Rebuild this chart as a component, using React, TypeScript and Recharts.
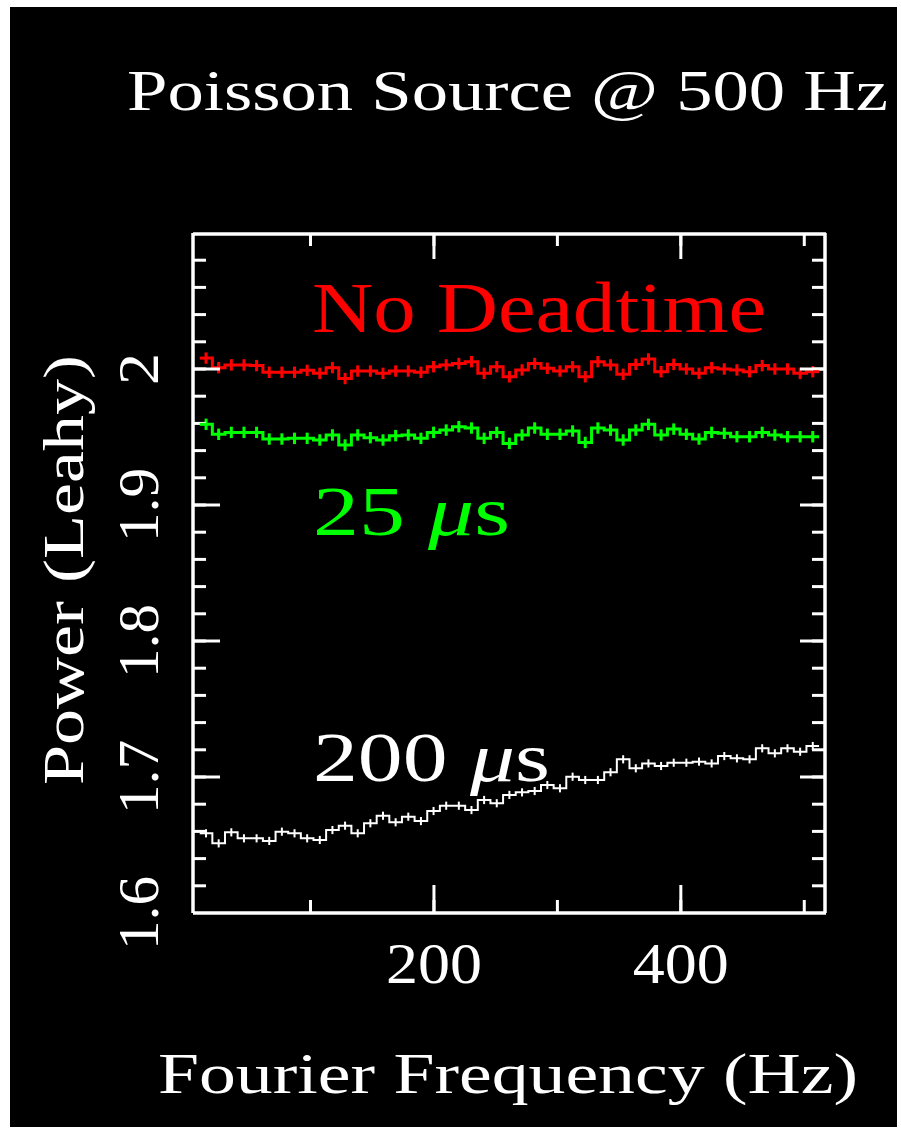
import React from 'react';
import { LineChart, Line, XAxis, YAxis, ErrorBar } from 'recharts';

// Fourier frequency bin centres (Hz)
const frequencies = [
  15.36, 25.6, 35.84, 46.08, 56.32, 66.56, 76.8, 87.04, 97.28, 107.52,
  117.76, 128, 138.24, 148.48, 158.72, 168.96, 179.2, 189.44, 199.68, 209.92,
  220.16, 230.4, 240.64, 250.88, 261.12, 271.36, 281.6, 291.84, 302.08, 312.32,
  322.56, 332.8, 343.04, 353.28, 363.52, 373.76, 384, 394.24, 404.48, 414.72,
  424.96, 435.2, 445.44, 455.68, 465.92, 476.16, 486.4, 496.64, 506.88,
];

// Leahy power, no deadtime
const noDeadtime = [
  2.008, 2.001, 2.003, 2.003, 2.0025, 1.9976, 1.9976, 1.9976, 1.999, 1.9968,
  2.001, 1.993, 1.9985, 1.9985, 1.9968, 1.9985, 1.9985, 1.9976, 2.0017, 2.003,
  2.004, 2.0054, 1.9968, 2.0017, 1.9943, 1.9993, 2.004, 2.0005, 1.9985, 2.0017,
  1.9943, 2.0054, 2.003, 1.9961, 2.0034, 2.0074, 1.998, 2.0034, 2.0, 1.9968,
  2.001, 2.0, 1.9993, 1.998, 2.0025, 2.0, 2.0, 1.9968, 1.998,
];

// Leahy power, 25 microsecond deadtime
const deadtime25 = [
  1.9593, 1.952, 1.9534, 1.9534, 1.9534, 1.9485, 1.9485, 1.949, 1.949, 1.9478,
  1.9515, 1.9441, 1.9515, 1.9495, 1.9478, 1.951, 1.9515, 1.949, 1.9534, 1.9551,
  1.9576, 1.9566, 1.949, 1.9534, 1.9453, 1.9515, 1.9566, 1.952, 1.952, 1.9544,
  1.946, 1.9566, 1.9551, 1.9478, 1.9551, 1.9593, 1.9515, 1.9558, 1.952, 1.9485,
  1.9534, 1.9527, 1.9502, 1.9502, 1.9534, 1.9515, 1.9502, 1.9502, 1.9502,
];

// Leahy power, 200 microsecond deadtime
const deadtime200 = [
  1.6586, 1.6512, 1.6593, 1.6549, 1.6549, 1.653, 1.6598, 1.6586, 1.6549, 1.6537,
  1.661, 1.6642, 1.6586, 1.666, 1.6715, 1.6667, 1.6708, 1.6676, 1.675, 1.6789,
  1.6789, 1.6757, 1.6831, 1.6807, 1.6868, 1.6887, 1.6897, 1.6941, 1.6917, 1.7002,
  1.6978, 1.6978, 1.7035, 1.713, 1.7064, 1.71, 1.7081, 1.7105, 1.7105, 1.7113,
  1.71, 1.7154, 1.7137, 1.713, 1.7211, 1.7174, 1.7211, 1.7186, 1.7228,
];

const errNoDeadtime = 0.0042;
const err25 = 0.0042;
const err200 = 0.003;

const xMinorTicks = [100, 200, 300, 400, 500];
const xMajorTicks = [200, 400];
const xLabelTicks = [200, 400];
const yMinorTicks = [
  1.62, 1.64, 1.66, 1.68, 1.7, 1.72, 1.74, 1.76, 1.78, 1.8, 1.82, 1.84,
  1.86, 1.88, 1.9, 1.92, 1.94, 1.96, 1.98, 2, 2.02, 2.04, 2.06, 2.08,
];
const yMajorTicks = [1.7, 1.8, 1.9, 2];
const yLabelTicks = [1.6, 1.7, 1.8, 1.9, 2];

const X_DOMAIN: [number, number] = [4.8, 517.6];
const Y_DOMAIN: [number, number] = [1.6, 2.1];

const data = frequencies.map((f, i) => ({
  f,
  red: noDeadtime[i],
  redErr: errNoDeadtime,
  green: deadtime25[i],
  greenErr: err25,
  white: deadtime200[i],
  whiteErr: err200,
}));

const FONT = '"Liberation Serif", "DejaVu Serif", serif';
const HALF_BIN_PX = 6.3;

const makeEdgeDot = (color: string, width: number) => (props: any) => {
  const { cx, cy, index } = props;
  const key = `dot-${color}-${index}`;
  if (index === 0) {
    return <line key={key} x1={cx - HALF_BIN_PX} x2={cx} y1={cy} y2={cy} stroke={color} strokeWidth={width} />;
  }
  if (index === frequencies.length - 1) {
    return <line key={key} x1={cx} x2={cx + HALF_BIN_PX} y1={cy} y2={cy} stroke={color} strokeWidth={width} />;
  }
  return <g key={key} />;
};

const EmptyTick = () => <g />;

const XLabelTick = (props: any) => {
  const { x, y, payload } = props;
  return (
    <text x={x - 48} y={y} fill="#ffffff" fontSize={57} fontFamily={FONT}
      textLength={96} lengthAdjust="spacingAndGlyphs">
      {payload.value}
    </text>
  );
};

const YLabelTick = (props: any) => {
  const { x, y, payload } = props;
  const v = payload.value;
  const isTwo = Math.abs(v - 2) < 1e-9;
  const label = isTwo ? '2' : v.toFixed(1);
  const len = isTwo ? 32 : 74;
  return (
    <text
      x={x}
      y={y + len / 2}
      transform={`rotate(-90 ${x} ${y + len / 2})`}
      fill="#ffffff"
      fontSize={57}
      fontFamily={FONT}
      textLength={len}
      lengthAdjust="spacingAndGlyphs"
    >
      {label}
    </text>
  );
};

const WHITE = '#ffffff';
const frameLine = { stroke: WHITE, strokeWidth: 3.5 };
const tickLineStyle = { stroke: WHITE, strokeWidth: 3 };

export default function App() {
  return (
    <div style={{ position: 'fixed', left: 0, top: 0, width: 901, height: 1134, background: '#ffffff' }}>
      <div style={{ position: 'absolute', left: 10, top: 7, width: 887, height: 1120, background: '#000000' }}>
        <LineChart
          width={887}
          height={1120}
          data={data}
          margin={{ top: 226, right: 71, bottom: 213, left: 182 }}
        >
          {/* bottom frame + minor ticks */}
          <XAxis xAxisId="x" dataKey="f" type="number" domain={X_DOMAIN} allowDataOverflow orientation="bottom"
            height={1} ticks={xMinorTicks} interval={0} tick={<EmptyTick />} tickSize={13} mirror
            axisLine={frameLine} tickLine={tickLineStyle} />
          <XAxis xAxisId="xMajB" dataKey="f" type="number" domain={X_DOMAIN} allowDataOverflow orientation="bottom"
            height={1} ticks={xMajorTicks} interval={0} tick={<EmptyTick />} tickSize={27} mirror
            axisLine={false} tickLine={tickLineStyle} />
          <XAxis xAxisId="xLab" dataKey="f" type="number" domain={X_DOMAIN} allowDataOverflow orientation="bottom"
            height={1} ticks={xLabelTicks} interval={0} tick={<XLabelTick />} tickSize={0} tickMargin={70}
            axisLine={false} tickLine={false} />
          {/* top frame */}
          <XAxis xAxisId="xMinT" dataKey="f" type="number" domain={X_DOMAIN} allowDataOverflow orientation="top"
            height={1} ticks={xMinorTicks} interval={0} tick={<EmptyTick />} tickSize={12} mirror
            axisLine={frameLine} tickLine={tickLineStyle} />
          <XAxis xAxisId="xMajT" dataKey="f" type="number" domain={X_DOMAIN} allowDataOverflow orientation="top"
            height={1} ticks={xMajorTicks} interval={0} tick={<EmptyTick />} tickSize={26} mirror
            axisLine={false} tickLine={tickLineStyle} />

          {/* left frame */}
          <YAxis yAxisId="y" type="number" domain={Y_DOMAIN} allowDataOverflow orientation="left"
            width={1} ticks={yMinorTicks} interval={0} tick={<EmptyTick />} tickSize={13} mirror
            axisLine={frameLine} tickLine={tickLineStyle} />
          <YAxis yAxisId="yMajL" type="number" domain={Y_DOMAIN} allowDataOverflow orientation="left"
            width={1} ticks={yMajorTicks} interval={0} tick={<EmptyTick />} tickSize={26} mirror
            axisLine={false} tickLine={tickLineStyle} />
          <YAxis yAxisId="yLab" type="number" domain={Y_DOMAIN} allowDataOverflow orientation="left"
            width={1} ticks={yLabelTicks} interval={0} tick={<YLabelTick />} tickSize={0} tickMargin={35}
            axisLine={false} tickLine={false} />
          {/* right frame */}
          <YAxis yAxisId="yMinR" type="number" domain={Y_DOMAIN} allowDataOverflow orientation="right"
            width={1} ticks={yMinorTicks} interval={0} tick={<EmptyTick />} tickSize={13} mirror
            axisLine={frameLine} tickLine={tickLineStyle} />
          <YAxis yAxisId="yMajR" type="number" domain={Y_DOMAIN} allowDataOverflow orientation="right"
            width={1} ticks={yMajorTicks} interval={0} tick={<EmptyTick />} tickSize={26} mirror
            axisLine={false} tickLine={tickLineStyle} />

          <Line xAxisId="x" yAxisId="y" type="step" dataKey="red" stroke="#ff0000" strokeWidth={3}
            dot={makeEdgeDot('#ff0000', 3)} activeDot={false} isAnimationActive={false}>
            <ErrorBar dataKey="redErr" direction="y" width={0} stroke="#ff0000" strokeWidth={3} isAnimationActive={false} />
          </Line>
          <Line xAxisId="x" yAxisId="y" type="step" dataKey="green" stroke="#00ff00" strokeWidth={3}
            dot={makeEdgeDot('#00ff00', 3)} activeDot={false} isAnimationActive={false}>
            <ErrorBar dataKey="greenErr" direction="y" width={0} stroke="#00ff00" strokeWidth={3} isAnimationActive={false} />
          </Line>
          <Line xAxisId="x" yAxisId="y" type="step" dataKey="white" stroke="#ffffff" strokeWidth={2}
            dot={makeEdgeDot('#ffffff', 2)} activeDot={false} isAnimationActive={false}>
            <ErrorBar dataKey="whiteErr" direction="y" width={0} stroke="#ffffff" strokeWidth={2} isAnimationActive={false} />
          </Line>
        </LineChart>
      </div>
      <svg
        width={901}
        height={1134}
        style={{ position: 'absolute', left: 0, top: 0, pointerEvents: 'none' }}
      >
        <text x={127} y={110} fill="#ffffff" fontSize={57} fontFamily={FONT}
          textLength={761} lengthAdjust="spacingAndGlyphs">Poisson Source @ 500 Hz</text>
        <text x={312} y={332} fill="#ff0000" fontSize={72} fontFamily={FONT}
          textLength={454} lengthAdjust="spacingAndGlyphs">No Deadtime</text>
        <text x={313} y={535} fill="#00ff00" fontSize={70} fontFamily={FONT}
          textLength={197} lengthAdjust="spacingAndGlyphs">25 <tspan fontStyle="italic">μ</tspan>s</text>
        <text x={313} y={781} fill="#ffffff" fontSize={70} fontFamily={FONT}
          textLength={237} lengthAdjust="spacingAndGlyphs">200 <tspan fontStyle="italic">μ</tspan>s</text>
        <text x={158} y={1093} fill="#ffffff" fontSize={57} fontFamily={FONT}
          textLength={700} lengthAdjust="spacingAndGlyphs">Fourier Frequency (Hz)</text>
        <text x={0} y={0} transform="translate(83 785) rotate(-90)" fill="#ffffff" fontSize={57} fontFamily={FONT}
          textLength={430} lengthAdjust="spacingAndGlyphs">Power (Leahy)</text>
      </svg>
    </div>
  );
}
